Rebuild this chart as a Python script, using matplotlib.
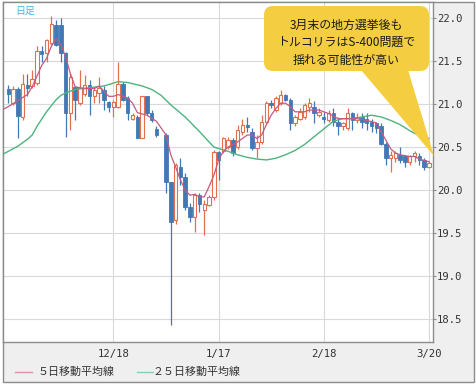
import numpy as np
import matplotlib
matplotlib.use("Agg")
import matplotlib.pyplot as plt
from matplotlib.patches import Rectangle, FancyBboxPatch, Polygon
from matplotlib.lines import Line2D
from matplotlib.transforms import IdentityTransform

nan = np.nan
# ---- data (candle index = trading day) ----
opens = [21.18, 21.01, 21.17, 20.85, 21.22, 21.21, 21.24, 21.62, 21.59, 21.71,
         21.92, 21.92, 21.59, 20.89, 21.20, 21.01, 21.12, 21.22, 21.09, 21.13,
         21.16, 21.02, 20.97, 20.97, 21.23, 21.07, 20.83, 20.85, 20.60, 21.09,
         20.90, 20.71, nan, 20.64, 20.09, 19.65, 20.27, 20.15, 19.80, 19.69,
         19.94, 19.77, 19.83, 19.92, 20.44, 20.45, 20.50, 20.58, 20.50, 20.68,
         20.76, 20.68, 20.49, 20.56, 20.79, 21.01, 20.93, 21.01, 21.10, 21.05,
         20.78, 20.83, 20.85, 20.97, 20.97, 20.87, 20.85, 20.81, 20.89, 20.79,
         20.74, 20.72, 20.89, 20.81, 20.85, 20.83, 20.79, 20.78, 20.74, 20.54,
         20.37, 20.37, 20.41, 20.39, 20.33, 20.39, 20.39, 20.35, 20.27]
highs = [21.22, 21.21, 21.20, 21.35, 21.35, 21.40, 21.67, 21.67, 21.76, 22.02,
         21.98, 22.00, 21.61, 21.36, 21.21, 21.39, 21.34, 21.28, 21.20, 21.31,
         21.21, 21.03, 21.05, 21.49, 21.26, 21.09, 20.90, 20.87, 21.09, 21.09,
         20.93, 20.74, nan, 20.66, 20.09, 20.31, 20.37, 20.20, 19.85, 19.97,
         19.97, 19.88, 19.94, 20.47, 20.45, 20.62, 20.62, 20.60, 20.76, 20.83,
         20.85, 20.72, 20.64, 20.87, 21.03, 21.05, 21.09, 21.16, 21.12, 21.07,
         20.87, 20.95, 21.01, 21.07, 21.03, 20.95, 20.91, 20.93, 20.95, 20.85,
         20.79, 20.95, 20.91, 20.89, 20.89, 20.89, 20.83, 20.79, 20.78, 20.56,
         20.45, 20.45, 20.50, 20.41, 20.41, 20.45, 20.43, 20.37, 20.34]
lows = [21.01, 20.99, 20.60, 20.81, 21.09, 21.19, 21.22, 21.49, 21.49, 21.69,
        21.67, 21.49, 20.62, 20.70, 20.81, 20.99, 21.09, 20.87, 21.01, 21.01,
        20.93, 20.91, 20.85, 20.95, 21.03, 20.81, 20.81, 20.60, 20.60, 20.87,
        20.79, 20.62, nan, 19.97, 18.43, 19.60, 20.06, 19.77, 19.63, 19.51,
        19.74, 19.48, 19.81, 19.88, 20.12, 20.43, 20.48, 20.40, 20.48, 20.64,
        20.68, 20.47, 20.37, 20.54, 20.78, 20.95, 20.91, 20.99, 21.03, 20.70,
        20.74, 20.81, 20.83, 20.91, 20.78, 20.85, 20.78, 20.79, 20.74, 20.64,
        20.70, 20.70, 20.70, 20.78, 20.72, 20.70, 20.68, 20.66, 20.52, 20.29,
        20.21, 20.33, 20.31, 20.27, 20.29, 20.33, 20.29, 20.23, 20.26]
closes = [21.12, 21.17, 20.86, 21.23, 21.19, 21.29, 21.62, 21.58, 21.74, 21.93,
          21.69, 21.59, 20.89, 21.32, 21.05, 21.19, 21.22, 21.09, 21.16, 21.19,
          21.05, 20.97, 21.02, 21.23, 21.05, 20.89, 20.87, 20.60, 21.09, 20.89,
          20.82, 20.64, nan, 20.09, 19.63, 20.29, 20.15, 19.80, 19.69, 19.94,
          19.84, 19.84, 19.92, 20.44, 20.35, 20.60, 20.58, 20.43, 20.70, 20.76,
          20.73, 20.49, 20.56, 20.79, 21.01, 20.99, 21.07, 21.10, 21.05, 20.78,
          20.85, 20.91, 20.99, 21.01, 20.89, 20.91, 20.83, 20.89, 20.79, 20.74,
          20.78, 20.89, 20.81, 20.85, 20.79, 20.78, 20.74, 20.72, 20.54, 20.37,
          20.41, 20.43, 20.35, 20.33, 20.39, 20.43, 20.35, 20.27, 20.32]

ma5_idx = [-1, 0, 2, 4, 5, 7, 8, 9, 10, 11, 12, 13, 14, 16, 18, 19, 21, 22, 23, 25,
           26, 27, 29, 31, 33, 34, 35, 36, 37, 38, 39, 40, 41, 42, 43, 44, 45, 46, 48,
           50, 51, 52, 53, 54, 55, 56, 57, 58, 59, 60, 62, 63, 65, 66, 67, 69, 71, 73,
           75, 77, 78, 79, 80, 81, 82, 84, 85, 86, 88]
ma5_val = [20.94, 20.97, 21.04, 21.11, 21.20, 21.45, 21.53, 21.67, 21.76, 21.69,
           21.55, 21.35, 21.20, 21.18, 21.18, 21.21, 21.09, 21.09, 21.11, 21.07,
           21.01, 20.90, 20.87, 20.80, 20.64, 20.41, 20.27, 20.12, 20.00, 19.94,
           19.95, 19.92, 19.92, 20.04, 20.17, 20.35, 20.45, 20.50, 20.56,
           20.64, 20.64, 20.60, 20.64, 20.76, 20.87, 20.95, 21.01, 21.01, 20.97,
           20.91, 20.91, 20.93, 20.93, 20.91, 20.89, 20.83, 20.83, 20.83,
           20.81, 20.78, 20.68, 20.58, 20.48, 20.43, 20.41, 20.39, 20.39, 20.36, 20.33]

ma25_idx = [-1, 0, 2, 4, 5, 6, 8, 10, 11, 12, 14, 17, 20, 23, 25, 28, 30, 32, 34, 37,
            40, 43, 46, 48, 50, 52, 54, 56, 58, 60, 62, 64, 66, 68, 70, 72, 74, 76,
            78, 80, 82, 84, 86, 88]
ma25_val = [20.42, 20.45, 20.51, 20.59, 20.64, 20.74, 20.91, 21.05, 21.10, 21.13,
            21.17, 21.19, 21.21, 21.26, 21.25, 21.21, 21.17, 21.10, 20.99, 20.85,
            20.68, 20.50, 20.45, 20.41, 20.38, 20.36, 20.35, 20.37, 20.41, 20.46,
            20.53, 20.62, 20.71, 20.80, 20.83, 20.83, 20.85, 20.87, 20.85, 20.81,
            20.76, 20.69, 20.63, 20.60]

tick_idx = [22, 44, 66, 88]
tick_labels = ["12/18", "1/17", "2/18", "3/20"]
y_ticks = [18.5, 19.0, 19.5, 20.0, 20.5, 21.0, 21.5, 22.0]

callout_lines = ["3月末の地方選挙後も", "トルコリラはS-400問題で", "揺れる可能性が高い"]
legend_labels = ["５日移動平均線", "２５日移動平均線"]
period_label = "日足"

# ---- styles ----
W, H = 476, 386
RED = "#e2704f"
BLUE = "#4279b5"
MA5_C = "#c45a82"
MA25_C = "#4cb47e"
CJK = ["Noto Sans CJK JP", "DejaVu Sans"]

def fx(px):
    return px / W

def fy(py):
    return 1 - py / H

fig = plt.figure(figsize=(W / 100, H / 100), dpi=100)
fig.patch.set_facecolor("white")

bg = Rectangle((fx(2.7), fy(382)), fx(474) - fx(2.7), fy(1.7) - fy(382),
               transform=fig.transFigure, facecolor="#f0efef",
               edgecolor="#8c8c8c", lw=1.0, zorder=-10)
fig.add_artist(bg)

ax = fig.add_axes([fx(2.7), fy(342), fx(432.7) - fx(2.7), fy(1.7) - fy(342)])
ax.set_facecolor("white")

o = np.array(opens); h = np.array(highs); l = np.array(lows); c = np.array(closes)
x = np.arange(len(o))
valid = ~np.isnan(o)
up = (c >= o) & valid
dn = (c < o) & valid

ax.vlines(x[up], l[up], h[up], colors=RED, lw=0.9, zorder=2)
ax.vlines(x[dn], l[dn], h[dn], colors=BLUE, lw=0.9, zorder=2)
body_w = 0.72
ax.bar(x[up], np.maximum(c[up] - o[up], 0.01), bottom=o[up], width=body_w,
       facecolor="white", edgecolor=RED, lw=0.8, zorder=3)
ax.bar(x[dn], np.maximum(o[dn] - c[dn], 0.01), bottom=c[dn], width=body_w,
       facecolor=BLUE, edgecolor=BLUE, lw=0.6, zorder=3)

ax.plot(ma25_idx, ma25_val, color=MA25_C, lw=1.0, zorder=4)
ax.plot(ma5_idx, ma5_val, color=MA5_C, lw=0.9, zorder=4)

ax.set_xlim(-1.17, 88.8)
ax.set_ylim(18.233, 22.19)
ax.set_xticks(tick_idx)
ax.set_xticklabels(tick_labels)
ax.set_yticks(y_ticks)
ax.set_yticklabels([f"{v:.1f}" for v in y_ticks])
ax.yaxis.tick_right()
ax.grid(True, color="#d9d9d9", lw=0.8, zorder=0)
ax.set_axisbelow(True)
for s in ax.spines.values():
    s.set_color("#8c8c8c")
    s.set_linewidth(1.0)
ax.tick_params(axis="x", length=0, pad=5, labelsize=7.7, labelcolor="#333333")
ax.tick_params(axis="y", length=2, pad=1, labelsize=7.6, labelcolor="#333333",
               color="#8c8c8c")
for lab in ax.get_xticklabels() + ax.get_yticklabels():
    lab.set_family("DejaVu Sans Mono")

# period label
fig.text(fx(15), fy(11), period_label, color="#45b3e0", fontsize=7.2,
         family=CJK, ha="left", va="center")

# callout
ident = IdentityTransform()
box = FancyBboxPatch((264, H - 71), 429 - 264, 71 - 6,
                     boxstyle="round,pad=0,rounding_size=9",
                     transform=ident, facecolor="#f5cd40", edgecolor="none",
                     zorder=5)
fig.add_artist(box)
tail = Polygon([(361, H - 70), (408, H - 70), (434, H - 156)], closed=True,
               transform=ident, facecolor="#f5cd40", edgecolor="none", zorder=5)
fig.add_artist(tail)
for i, line in enumerate(callout_lines):
    fig.text(fx(346.5), fy(25 + 17.5 * i), line, ha="center", va="center",
             fontsize=8.6, family=CJK, color="#1a1a1a", zorder=6)

# legend
leg_y = fy(372)
fig.add_artist(Line2D([fx(15), fx(32)], [leg_y, leg_y], color=MA5_C, lw=1.0,
                      transform=fig.transFigure, alpha=0.6))
fig.text(fx(38), leg_y, legend_labels[0], ha="left", va="center", fontsize=7.9,
         family=CJK, color="#333333")
fig.add_artist(Line2D([fx(137), fx(153)], [leg_y, leg_y], color=MA25_C, lw=1.0,
                      transform=fig.transFigure, alpha=0.6))
fig.text(fx(152), leg_y, legend_labels[1], ha="left", va="center", fontsize=7.9,
         family=CJK, color="#333333")

fig.savefig("out.png", dpi=100, facecolor=fig.get_facecolor())
